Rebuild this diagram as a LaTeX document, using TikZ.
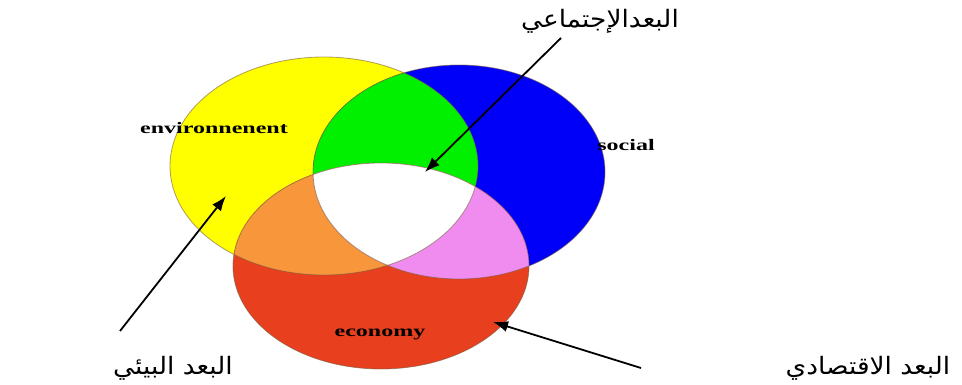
\documentclass[tikz,border=0pt]{standalone}
\usepackage{fontspec}
\usetikzlibrary{arrows.meta}
\setmainfont{Liberation Serif}
\newfontfamily\arabicfont[Script=Arabic]{DejaVu Sans}
\TeXXeTstate=1
\definecolor{cyel}{HTML}{FFFF00}
\definecolor{cblu}{HTML}{0000F8}
\definecolor{cgrn}{HTML}{00F000}
\definecolor{corg}{HTML}{F7963A}
\definecolor{cpnk}{HTML}{F08CF0}
\definecolor{cred}{HTML}{E8401E}
\definecolor{cedge}{HTML}{7A5A40}
\tikzset{
  arlabel/.style={font=\arabicfont\fontsize{24}{28}\selectfont, xscale=1.1, inner sep=0pt},
  enlabel/.style={font=\bfseries\fontsize{16}{18}\selectfont, xscale=1.5, inner sep=0pt},
  pointer/.style={line width=1.8pt, -{Latex[length=15pt,width=11pt]}},
  edge/.style={draw=cedge, line width=0.8pt},
}
\def\Yel{(324,166) ellipse [x radius=154pt, y radius=109pt]}
\def\Blu{(459,172) ellipse [x radius=146pt, y radius=107pt]}
\def\Eco{(381,266) ellipse [x radius=148pt, y radius=103pt]}
\begin{document}
\begin{tikzpicture}[x=1pt,y=-1pt]
\useasboundingbox (0,0) rectangle (962,385);
% base fills
\fill[cyel] \Yel;
\fill[cblu] \Blu;
\fill[cred] \Eco;
% yellow & blue
\begin{scope}
  \clip \Yel;
  \fill[cgrn] \Blu;
\end{scope}
% yellow & eco
\begin{scope}
  \clip \Yel;
  \fill[corg] \Eco;
\end{scope}
% blue & eco
\begin{scope}
  \clip \Blu;
  \fill[cpnk] \Eco;
\end{scope}
% all three
\begin{scope}
  \clip \Yel;
  \clip \Blu;
  \fill[white] \Eco;
\end{scope}
% edges
\draw[edge, draw opacity=0.6] \Yel;
\draw[edge, draw opacity=0.6] \Blu;
\draw[edge, draw opacity=0.6] \Eco;
% English labels
\node[enlabel] (env) at (214,128) {environnenent};
\node[enlabel] (soc) at (626,145) {social};
\node[enlabel] (eco) at (380,334) {economy};
% Arabic labels
\node[arlabel] (lsoc) at (600,21) {\beginR البعدالإجتماعي\endR};
\node[arlabel] (lenv) at (173,368) {\beginR البعد البيئي\endR};
\node[arlabel] (leco) at (868,368) {\beginR البعد الاقتصادي\endR};
% arrow targets
\coordinate (tsoc) at (425,172);
\coordinate (tenv) at (226,196);
\coordinate (teco) at (493,322);
\coordinate (ssoc) at (561,38);
\coordinate (senv) at (120,331);
\coordinate (seco) at (641,368);
\draw[pointer] (ssoc) -- (tsoc);
\draw[pointer] (senv) -- (tenv);
\draw[pointer] (seco) -- (teco);
\end{tikzpicture}
\end{document}
